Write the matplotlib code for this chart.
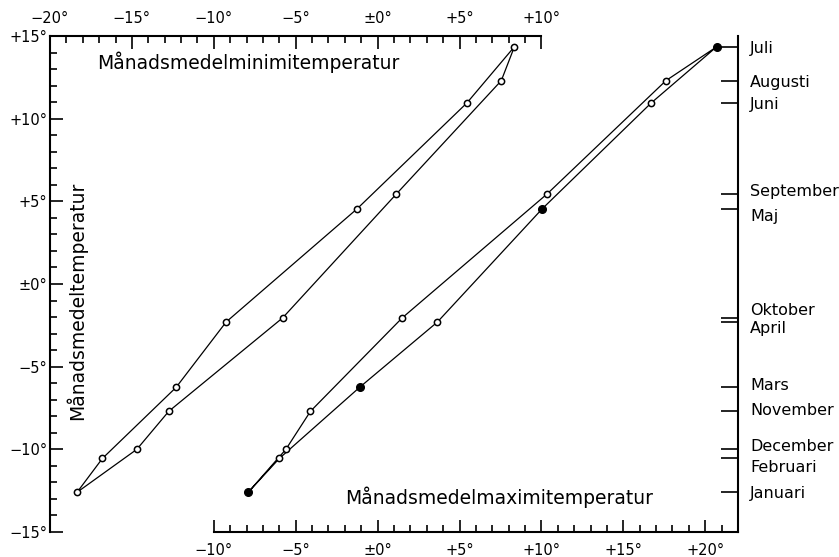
import numpy as np
import matplotlib.pyplot as plt
from matplotlib.transforms import blended_transform_factory

# Monthly values (deg C), Jan..Dec
months = ['Januari', 'Februari', 'Mars', 'April', 'Maj', 'Juni',
          'Juli', 'Augusti', 'September', 'Oktober', 'November', 'December']
t_mean = [-12.6, -10.55, -6.25, -2.3, 4.55, 10.95, 14.35, 12.3, 5.45, -2.05, -7.7, -10.0]
t_min = [-18.35, -16.8, -12.3, -9.25, -1.25, 5.45, 8.35, 7.55, 1.15, -5.8, -12.75, -14.7]
t_max = [-7.9, -6.0, -1.1, 3.65, 10.05, 16.7, 20.7, 17.6, 10.35, 1.5, -4.1, -5.6]
# months drawn as filled dots on the maximum curve
max_filled = ['Januari', 'Mars', 'Maj', 'Juli']

top_ticks = [-20, -15, -10, -5, 0, 5, 10]
bottom_ticks = [-10, -5, 0, 5, 10, 15, 20]
left_ticks = [-15, -10, -5, 0, 5, 10, 15]


def deg_label(v):
    if v == 0:
        return '±0°'
    return ('+' if v > 0 else '−') + '%d°' % abs(v)


plt.rcParams['font.family'] = 'DejaVu Sans'

fig = plt.figure(figsize=(8.39, 5.57), dpi=100)
ax = fig.add_axes([50 / 839, 1 - 532 / 557, 688 / 839, 496 / 557])
ax.set_xlim(-20, 22)
ax.set_ylim(-15, 15)

lw_axis = 1.5
for s in ax.spines.values():
    s.set_linewidth(lw_axis)
ax.spines['top'].set_visible(False)
ax.spines['right'].set_visible(False)
ax.spines['bottom'].set_bounds(-10, 22)

# bottom axis (maximum temperature)
ax.set_xticks(bottom_ticks)
ax.set_xticklabels([deg_label(v) for v in bottom_ticks])
ax.set_xticks([v for v in range(-10, 22) if v % 5], minor=True)
# left axis (mean temperature)
ax.set_yticks(left_ticks)
ax.set_yticklabels([deg_label(v) for v in left_ticks])
ax.set_yticks([v for v in range(-15, 16) if v % 5], minor=True)
ax.tick_params(which='both', direction='in', width=1.2, labelsize=10.5)
ax.tick_params(which='major', length=9)
ax.tick_params(which='minor', length=5)
ax.tick_params(axis='x', pad=8)
ax.tick_params(axis='y', pad=2)

# top axis (minimum temperature)
axt = ax.twiny()
axt.set_xlim(-20, 22)
for k, s in axt.spines.items():
    s.set_visible(k == 'top')
    s.set_linewidth(lw_axis)
axt.spines['top'].set_bounds(-20, 10)
axt.set_xticks(top_ticks)
axt.set_xticklabels([deg_label(v) for v in top_ticks])
axt.set_xticks([v for v in range(-20, 11) if v % 5], minor=True)
axt.tick_params(which='both', direction='in', width=1.2, labelsize=10.5, pad=7)
axt.tick_params(which='major', length=9)
axt.tick_params(which='minor', length=5)

# right axis: month mean temperatures
axr = ax.twinx()
axr.set_ylim(-15, 15)
for k, s in axr.spines.items():
    s.set_visible(k == 'right')
    s.set_linewidth(lw_axis)
axr.set_yticks(t_mean)
axr.set_yticklabels([])
axr.tick_params(axis='y', direction='in', length=12, width=1.2)

# month labels next to the right axis, nudged apart where ticks crowd
nudge = {'September': 4, 'Maj': -6, 'Oktober': 9, 'April': -5, 'Mars': 3,
         'November': 2, 'December': 4, 'Februari': -8}
trans = blended_transform_factory(ax.transAxes, ax.transData)
for m, v in zip(months, t_mean):
    ax.annotate(m, xy=(1, v), xycoords=trans, xytext=(12, nudge.get(m, 0)),
                textcoords='offset pixels', ha='left', va='center_baseline',
                fontsize=11.5, annotation_clip=False)

# closed loops through the year
loop = list(range(12)) + [0]
ax.plot([t_min[i] for i in loop], [t_mean[i] for i in loop], color='black', lw=0.9)
ax.plot([t_max[i] for i in loop], [t_mean[i] for i in loop], color='black', lw=0.9)

ax.plot(t_min, t_mean, ls='none', marker='o', ms=4.5, mfc='white', mec='black', mew=1.1)
open_idx = [i for i, m in enumerate(months) if m not in max_filled]
fill_idx = [i for i, m in enumerate(months) if m in max_filled]
ax.plot([t_max[i] for i in open_idx], [t_mean[i] for i in open_idx], ls='none',
        marker='o', ms=4.5, mfc='white', mec='black', mew=1.1)
ax.plot([t_max[i] for i in fill_idx], [t_mean[i] for i in fill_idx], ls='none',
        marker='o', ms=5.5, mfc='black', mec='black')

# axis titles
ax.text(-17.15, 13.4, 'Månadsmedelminimitemperatur', fontsize=13.5, ha='left', va='center')
ax.text(-2.0, -12.9, 'Månadsmedelmaximitemperatur', fontsize=13.5, ha='left', va='center')
ax.text(-18.4, -1.0, 'Månadsmedeltemperatur', fontsize=13.5, rotation=90,
        ha='center', va='center')

fig.savefig('out.png', dpi=100)
